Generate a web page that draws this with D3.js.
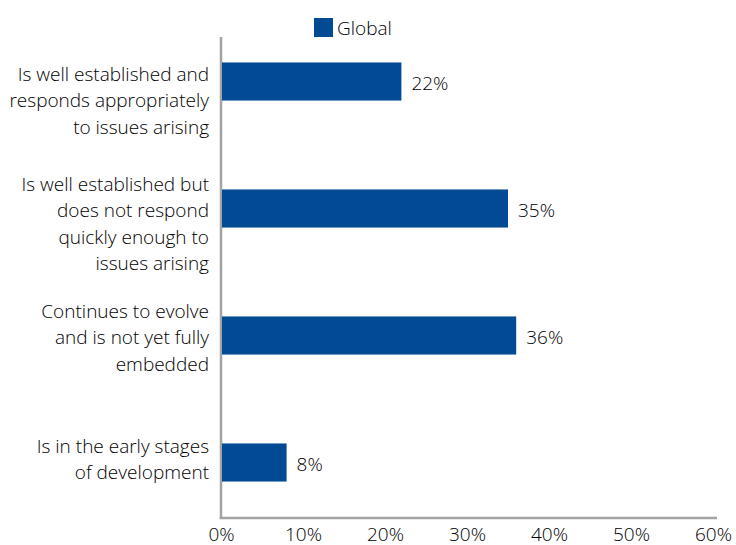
<!DOCTYPE html>
<html>
<head>
<meta charset="utf-8">
<script src="https://cdn.jsdelivr.net/npm/d3@7"></script>
<style>
  html, body { margin: 0; padding: 0; background: #fff; }
  svg { display: block; }
  text { font-family: "Open Sans", "Noto Sans", sans-serif; font-weight: 300; fill: #000; }
</style>
</head>
<body>
<svg id="chart" width="736" height="545"></svg>
<script>
// Survey responses: share of respondents per statement
const categories = [
  "Is well established and responds appropriately to issues arising",
  "Is well established but does not respond quickly enough to issues arising",
  "Continues to evolve and is not yet fully embedded",
  "Is in the early stages of development"
];
const categoryLines = [
  ["Is well established and", "responds appropriately", "to issues arising"],
  ["Is well established but", "does not respond", "quickly enough to", "issues arising"],
  ["Continues to evolve", "and is not yet fully", "embedded"],
  ["Is in the early stages", "of development"]
];
const globalValues = [22, 35, 36, 8];
const seriesName = "Global";
const xTicks = [0, 10, 20, 30, 40, 50, 60];

const barColor = "#024b94";
const axisColor = "#a3a3a3";

const svg = d3.select("#chart");

const x = d3.scaleLinear().domain([0, 60]).range([221, 713]);
const y = d3.scaleBand()
  .domain(categories)
  .range([18, 526])
  .paddingInner(0.7)
  .paddingOuter(0.35);

// Axis lines (left and bottom)
svg.append("line")
  .attr("x1", x(0)).attr("x2", x(0))
  .attr("y1", 37).attr("y2", 519)
  .attr("stroke", axisColor).attr("stroke-width", 2.5);
svg.append("line")
  .attr("x1", x(0) - 1.25).attr("x2", 717)
  .attr("y1", 518).attr("y2", 518)
  .attr("stroke", axisColor).attr("stroke-width", 2.5);

// Bottom tick labels
const xAxis = d3.axisBottom(x)
  .tickValues(xTicks)
  .tickFormat(d => d + "%")
  .tickSize(0)
  .tickPadding(9.5);
const gx = svg.append("g").attr("transform", "translate(0,518)").call(xAxis);
gx.select(".domain").remove();
gx.selectAll("text")
  .style("font-family", '"Open Sans", "Noto Sans", sans-serif')
  .style("font-weight", 300)
  .style("font-size", "19px")
  .style("fill", "#000");

// Bars
svg.append("g").selectAll("rect")
  .data(categories)
  .join("rect")
  .attr("x", x(0) + 1)
  .attr("y", d => y(d))
  .attr("width", (d, i) => x(globalValues[i]) - x(0) - 1)
  .attr("height", y.bandwidth())
  .attr("fill", barColor);

// Value labels
svg.append("g").selectAll("text")
  .data(categories)
  .join("text")
  .attr("x", (d, i) => x(globalValues[i]) + 10)
  .attr("y", d => y(d) + y.bandwidth() / 2 + 8)
  .style("font-size", "19px")
  .text((d, i) => globalValues[i] + "%");

// Category labels, wrapped and right-aligned against the axis
const firstLineShift = [-1, -18, -18, -10];
const lineStep = 26.6;
const labels = svg.append("g").selectAll("text")
  .data(categories)
  .join("text")
  .attr("text-anchor", "end")
  .style("font-size", "19px")
  .attr("y", (d, i) => y(d) + y.bandwidth() / 2 + firstLineShift[i]);
labels.each(function(d, i) {
  d3.select(this).selectAll("tspan")
    .data(categoryLines[i])
    .join("tspan")
    .attr("x", 209)
    .attr("dy", (t, j) => j === 0 ? 0 : lineStep)
    .text(t => t);
});

// Legend
const legend = svg.append("g");
legend.append("rect")
  .attr("x", 314).attr("y", 18)
  .attr("width", 19).attr("height", 19)
  .attr("fill", barColor);
legend.append("text")
  .attr("x", 337).attr("y", 35)
  .style("font-size", "19px")
  .text(seriesName);
</script>
</body>
</html>
